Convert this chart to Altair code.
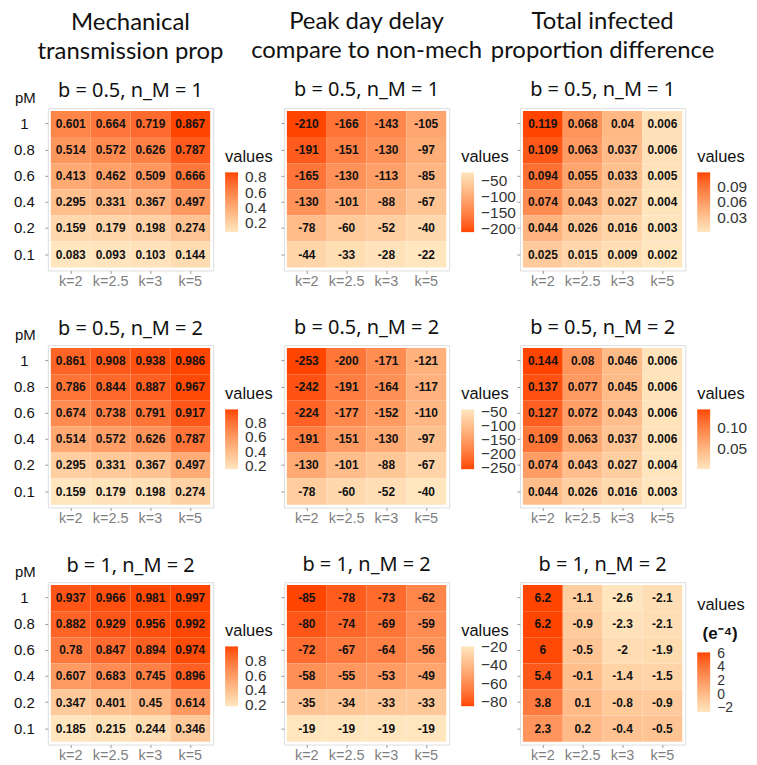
import altair as alt
import pandas as pd

k_labels = ["k=2", "k=2.5", "k=3", "k=5"]
pm_labels = ["1", "0.8", "0.6", "0.4", "0.2", "0.1"]

col_titles = [["Mechanical", "transmission prop"],
              ["Peak day delay", "compare to non-mech"],
              ["Total infected", "proportion difference"]]
row_titles = ["b = 0.5, n_M = 1", "b = 0.5, n_M = 2", "b = 1, n_M = 2"]

# rows: pM = 1, 0.8, 0.6, 0.4, 0.2, 0.1 ; columns: k=2, 2.5, 3, 5
mech_1 = [[0.601, 0.664, 0.719, 0.867],
          [0.514, 0.572, 0.626, 0.787],
          [0.413, 0.462, 0.509, 0.666],
          [0.295, 0.331, 0.367, 0.497],
          [0.159, 0.179, 0.198, 0.274],
          [0.083, 0.093, 0.103, 0.144]]
peak_1 = [[-210, -166, -143, -105],
          [-191, -151, -130, -97],
          [-165, -130, -113, -85],
          [-130, -101, -88, -67],
          [-78, -60, -52, -40],
          [-44, -33, -28, -22]]
total_1 = [[0.119, 0.068, 0.04, 0.006],
           [0.109, 0.063, 0.037, 0.006],
           [0.094, 0.055, 0.033, 0.005],
           [0.074, 0.043, 0.027, 0.004],
           [0.044, 0.026, 0.016, 0.003],
           [0.025, 0.015, 0.009, 0.002]]
mech_2 = [[0.861, 0.908, 0.938, 0.986],
          [0.786, 0.844, 0.887, 0.967],
          [0.674, 0.738, 0.791, 0.917],
          [0.514, 0.572, 0.626, 0.787],
          [0.295, 0.331, 0.367, 0.497],
          [0.159, 0.179, 0.198, 0.274]]
peak_2 = [[-253, -200, -171, -121],
          [-242, -191, -164, -117],
          [-224, -177, -152, -110],
          [-191, -151, -130, -97],
          [-130, -101, -88, -67],
          [-78, -60, -52, -40]]
total_2 = [[0.144, 0.08, 0.046, 0.006],
           [0.137, 0.077, 0.045, 0.006],
           [0.127, 0.072, 0.043, 0.006],
           [0.109, 0.063, 0.037, 0.006],
           [0.074, 0.043, 0.027, 0.004],
           [0.044, 0.026, 0.016, 0.003]]
mech_3 = [[0.937, 0.966, 0.981, 0.997],
          [0.882, 0.929, 0.956, 0.992],
          [0.78, 0.847, 0.894, 0.974],
          [0.607, 0.683, 0.745, 0.896],
          [0.347, 0.401, 0.45, 0.614],
          [0.185, 0.215, 0.244, 0.346]]
peak_3 = [[-85, -78, -73, -62],
          [-80, -74, -69, -59],
          [-72, -67, -64, -56],
          [-58, -55, -53, -49],
          [-35, -34, -33, -33],
          [-19, -19, -19, -19]]
total_3_e4 = [[6.2, -1.1, -2.6, -2.1],
              [6.2, -0.9, -2.3, -2.1],
              [6, -0.5, -2, -1.9],
              [5.4, -0.1, -1.4, -1.5],
              [3.8, 0.1, -0.8, -0.9],
              [2.3, 0.2, -0.4, -0.5]]

legend_vals = {
    (0, 0): ([0.2, 0.4, 0.6, 0.8], ".1f"),
    (0, 1): ([-50, -100, -150, -200], "d"),
    (0, 2): ([0.03, 0.06, 0.09], ".2f"),
    (1, 0): ([0.2, 0.4, 0.6, 0.8], ".1f"),
    (1, 1): ([-50, -100, -150, -200, -250], "d"),
    (1, 2): ([0.05, 0.10], ".2f"),
    (2, 0): ([0.2, 0.4, 0.6, 0.8], ".1f"),
    (2, 1): ([-20, -40, -60, -80], "d"),
    (2, 2): ([-2, 0, 2, 4, 6], "d"),
}

grid = [[mech_1, peak_1, total_1],
        [mech_2, peak_2, total_2],
        [mech_3, peak_3, total_3_e4]]

LIGHT = "#FFE6BF"
DARK = "#FF4500"
W, H = 166, 163
FONT = "Liberation Sans"
TFONT = "Noto Sans"
CFONT = "Lato"


def panel(r, c):
    vals = grid[r][c]
    rows = []
    for i, pm in enumerate(pm_labels):
        for j, k in enumerate(k_labels):
            rows.append({"k": k, "pm": pm, "value": vals[i][j]})
    df = pd.DataFrame(rows)
    flat = [v for row in vals for v in row]
    mn, mx = min(flat), max(flat)
    rng = [LIGHT, DARK] if c != 1 else [DARK, LIGHT]
    lv, fmt = legend_vals[(r, c)]

    if c == 0:
        yaxis = alt.Axis(title="pM", titleAngle=0, titleAlign="center",
                         titleBaseline="alphabetic", titleX=-23, titleY=-6,
                         titleFontSize=15, titleFontWeight="normal", titleFont=FONT,
                         titleColor="#111", labelAlign="center", labelPadding=21,
                         labelFontSize=15, labelColor="#111", labelFont=FONT,
                         tickSize=3, tickColor="#999", domain=False)
    else:
        yaxis = alt.Axis(title=None, labels=False, tickSize=3,
                         tickColor="#999", domain=False)
    xaxis = alt.Axis(title=None, labelAngle=0, labelFontSize=14.5,
                     labelColor="#7F7F7F", labelFont=FONT, labelPadding=1,
                     tickSize=3, tickColor="#999", domain=False)

    special = (r == 2 and c == 2)
    legend = alt.Legend(
        title="values", orient="none", direction="vertical",
        legendX=W + 12, legendY=15 if special else 41,
        titleFontSize=16.5, titleFont=FONT, titleFontWeight="normal",
        titleColor="#111", titlePadding=39 if special else 7,
        gradientLength=60, gradientThickness=13, gradientStrokeWidth=0,
        labelFontSize=14 if special else 15.5, labelFont=FONT, labelColor="#333",
        labelOverlap=False, labelOffset=7, values=lv, format=fmt,
    )

    base = alt.Chart(df).encode(
        x=alt.X("k:N", sort=k_labels, axis=xaxis,
                scale=alt.Scale(paddingInner=0, paddingOuter=0.075)),
        y=alt.Y("pm:N", sort=pm_labels, axis=yaxis,
                scale=alt.Scale(paddingInner=0, paddingOuter=0.11)),
    )
    rect = base.mark_rect().encode(
        color=alt.Color("value:Q", legend=legend,
                        scale=alt.Scale(domain=[mn, mx], range=rng,
                                        interpolate="lab", nice=False, zero=False)))
    text = base.mark_text(font=FONT, fontWeight="bold", fontSize=12,
                          color="#111").encode(text="value:N")
    layers = [rect, text]
    if special:
        note = alt.Chart(pd.DataFrame({"t": ["(e\u207b\u2074)"]})).mark_text(
            font=FONT, fontWeight="bold", fontSize=17, align="center",
            baseline="top", color="#111").encode(
            x=alt.value(W + 35), y=alt.value(44), text="t:N")
        layers.append(note)

    if r == 0:
        off = 8 if c != 0 else -11
        title = alt.TitleParams(
            text=col_titles[c], subtitle=row_titles[r], anchor="middle",
            frame="group", font=CFONT, fontSize=24, fontWeight="normal",
            lineHeight=29, color="#111", subtitleFont=TFONT,
            subtitleFontSize=20, subtitleColor="#111",
            subtitlePadding=17, offset=off)
    else:
        off = 7 if c != 0 else -12
        title = alt.TitleParams(
            text=row_titles[r], anchor="middle", frame="group", font=TFONT,
            fontSize=20, fontWeight="normal", color="#111", offset=off)

    return alt.layer(*layers).properties(width=W, height=H, title=title)


panels = [panel(r, c) for r in range(3) for c in range(3)]

chart = alt.concat(*panels, columns=3, spacing={"row": 75, "column": 71},
                   bounds="flush").resolve_scale(
    color="independent", x="independent", y="independent")

chart = chart.properties(
    padding={"left": 5, "top": 0, "right": 0, "bottom": 0}
).configure_view(fill="#EBEBEB", stroke=None).configure(background="white")

chart.save("out.html", embed_options={"renderer": "svg", "actions": False})
